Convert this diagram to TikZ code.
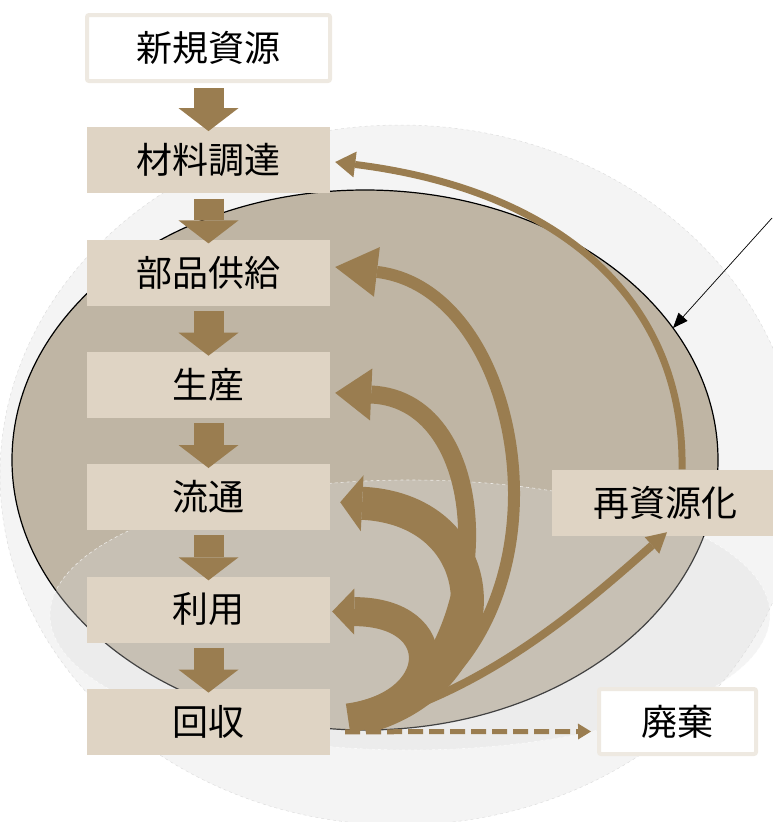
\documentclass[tikz,border=0pt]{standalone}
\usepackage{fontspec}
\setmainfont{Noto Sans CJK JP}
\usetikzlibrary{arrows.meta}
\definecolor{brn}{HTML}{9A7D50}
\definecolor{boxfill}{HTML}{DFD4C4}
\definecolor{boxline}{HTML}{EEE9E1}
\definecolor{ellfill}{HTML}{BFB5A4}
\definecolor{outerfill}{HTML}{F4F4F4}
\begin{document}
\begin{tikzpicture}[x=1pt,y=-1pt,
  box/.style={fill=boxfill, minimum width=243pt, minimum height=66pt, inner sep=0pt,
    font=\fontsize{36}{40}\selectfont},
  wbox/.style={box, fill=white, draw=boxline, line width=4pt, rounded corners=2pt},
  downarr/.style={brn, line width=30pt, -{Triangle[length=23pt,width=60pt,line width=0pt]}},
  flowarr/.style={brn, line cap=butt}
]
\useasboundingbox (0,0) rectangle (772,822);
% background shapes
\filldraw[fill=outerfill, draw=black!13, dashed, line width=0.5pt] (400,475) ellipse [x radius=400, y radius=350];
\filldraw[fill=ellfill, draw=black, line width=1.2pt] (365,460) ellipse [x radius=353, y radius=270];
\filldraw[fill=black!14, fill opacity=0.3, draw=white, draw opacity=0.7, dashed, line width=0.6pt] (410,615) ellipse [x radius=360, y radius=135];

% boxes
\node[wbox] (b0) at (208.5,48) {新規資源};
\node[box] (b1) at (208.5,160.3) {材料調達};
\node[box] (b2) at (208.5,272.6) {部品供給};
\node[box] (b3) at (208.5,384.9) {生産};
\node[box] (b4) at (208.5,497.2) {流通};
\node[box] (b5) at (208.5,609.5) {利用};
\node[box] (b6) at (208.5,721.8) {回収};
\node[box, minimum width=226pt] (rec) at (665,502.5) {再資源化};
\node[wbox, minimum width=157pt, minimum height=65pt] (haiki) at (677.5,721.5) {廃棄};

% vertical arrows
\foreach \a/\b in {b0/b1,b1/b2,b2/b3,b3/b4,b4/b5,b5/b6}
  \draw[downarr] ([yshift=-5pt]\a.south) -- ([yshift=-4pt]\b.north);

% root points
\coordinate (s1) at (348,718);
\coordinate (s2) at (362,718);
\coordinate (s3) at (380,718);
\coordinate (s4) at (395,716);
\coordinate (s5) at (385,716);

% dashed arrow to waste
\draw[brn, line width=5pt, dash pattern=on 15pt off 6pt,
  -{Triangle[length=13pt,width=16pt,line width=0pt]}]
  ([xshift=15pt,yshift=-10pt]b6.east) -- ([xshift=-6pt,yshift=-10pt]haiki.west);

% curved arrows
\draw[flowarr, line width=29pt, -{Triangle[length=22pt,width=46pt,line width=0pt]}]
  (s1) .. controls (445,705) and (450,612) .. ([xshift=2pt,yshift=-2pt]b5.east);
\draw[flowarr, line width=33pt, -{Triangle[length=22pt,width=56pt,line width=0pt]}]
  (s2) .. controls (505,680) and (500,510) .. ([xshift=10pt,yshift=-5pt]b4.east);
\draw[flowarr, line width=18pt, -{Triangle[length=36pt,width=52pt,line width=0pt]}]
  (s3) .. controls (500,640) and (495,400) .. ([xshift=5pt,yshift=-8pt]b3.east);
\draw[flowarr, line width=12pt, -{Triangle[length=42pt,width=50pt,line width=0pt]}]
  (s4) .. controls (580,620) and (530,290) .. ([xshift=5pt,yshift=5.6pt]b2.east);
\draw[flowarr, line width=8pt, -{Triangle[length=20pt,width=22pt,line width=0pt]}]
  (s5) .. controls (500,680) and (590,600) .. ([xshift=2pt,yshift=3.5pt]rec.south);
\draw[flowarr, line width=7pt, -{Triangle[length=20pt,width=26pt,line width=0pt]}]
  ([xshift=17pt]rec.north) .. controls (685,300) and (560,190) .. ([xshift=5pt,yshift=-1.7pt]b1.east);

% thin pointer arrow
\coordinate (pA) at (772,218);
\coordinate (pB) at (673,328);
\draw[black, line width=0.7pt, -{Triangle[length=15pt,width=12pt]}] (pA) -- (pB);
\end{tikzpicture}
\end{document}
